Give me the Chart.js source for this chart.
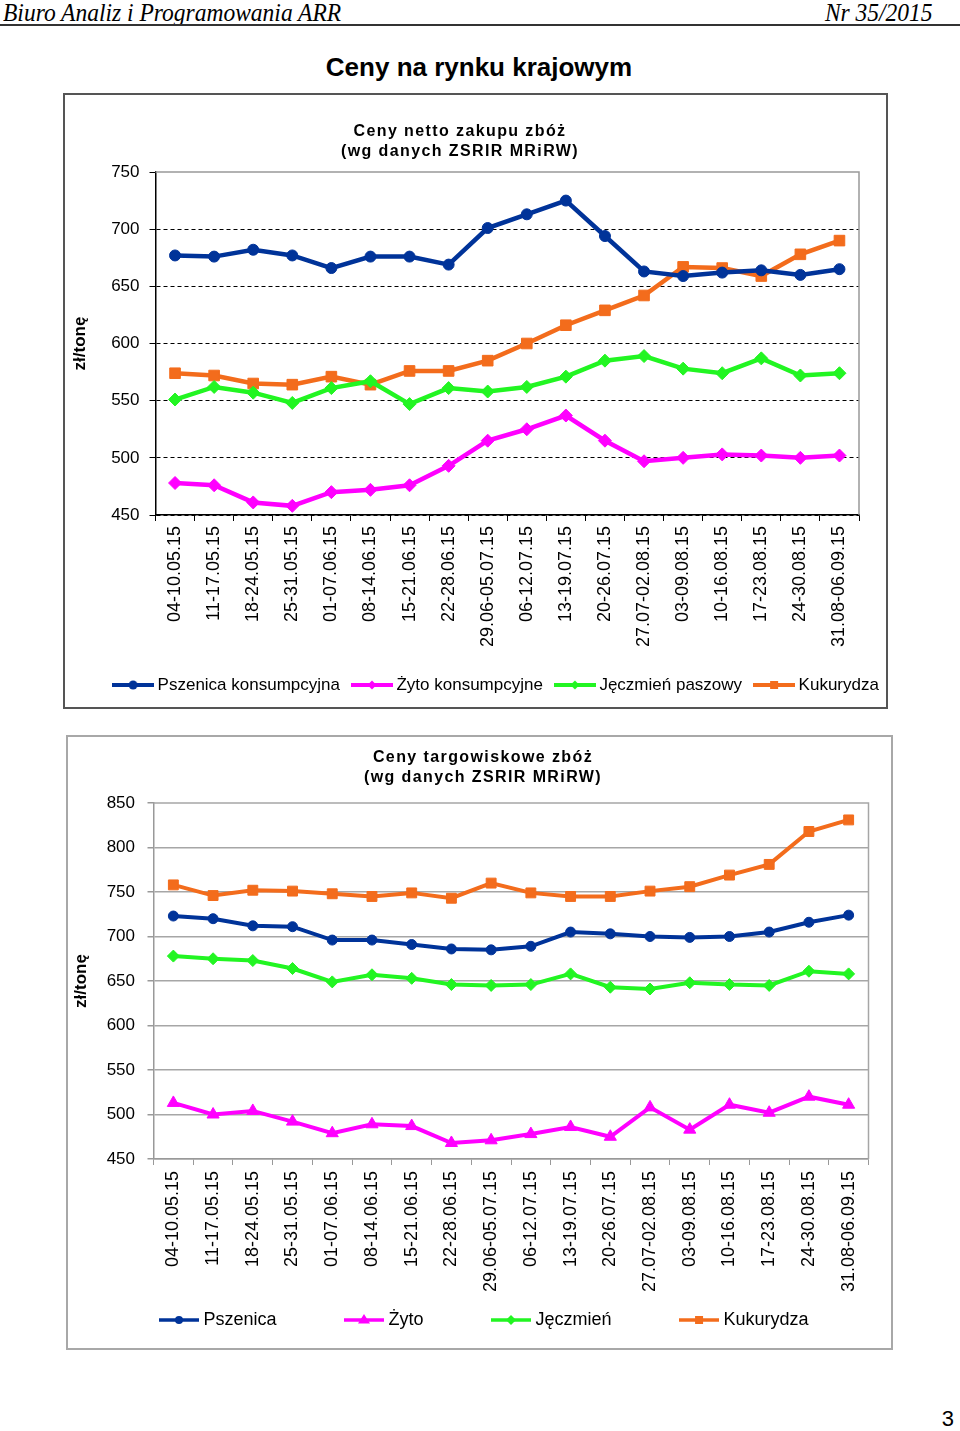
<!DOCTYPE html>
<html>
<head>
<meta charset="utf-8">
<script src="https://cdn.jsdelivr.net/npm/chart.js@4.4.1/dist/chart.umd.min.js"></script>
<style>
  body { margin: 0; width: 960px; height: 1431px; position: relative; background: #fff; overflow: hidden;
         font-family: "Liberation Sans", Arial, sans-serif; color: #000; }
  .hdr { position: absolute; top: 0px; font-family: "Liberation Serif", serif; font-style: italic; font-size: 25px; line-height: 25px; }
  .rule { position: absolute; left: 0; top: 24px; width: 960px; height: 2px; background: #333; }
  .title { position: absolute; left: 0; width: 958px; top: 52px; text-align: center; font-weight: bold; font-size: 26px; line-height: 30px; }
  .box { position: absolute; box-sizing: border-box; pointer-events: none; }
  .ctitle { position: absolute; width: 400px; text-align: center; font-weight: bold; font-size: 16px; line-height: 20px; letter-spacing: 1.4px; }
  canvas { position: absolute; }
  .pg { position: absolute; right: 6px; top: 1406px; font-size: 22px; }
</style>
</head>
<body>
<div class="hdr" style="left:3px;transform:scaleX(0.94);transform-origin:left top">Biuro Analiz i Programowania ARR</div>
<div class="hdr" style="right:27px;transform:scaleX(0.94);transform-origin:right top">Nr 35/2015</div>
<div class="rule"></div>
<div class="title">Ceny na rynku krajowym</div>

<canvas id="c1" width="870" height="616" style="left:63px;top:93px"></canvas>
<div class="box" style="left:63px;top:93px;width:825px;height:616px;border:2px solid #555"></div>
<div class="ctitle" style="left:260px;top:121px">Ceny netto zakupu zbóż<br>(wg danych ZSRIR MRiRW)</div>

<canvas id="c2" width="840" height="615" style="left:66px;top:735px"></canvas>
<div class="box" style="left:66px;top:735px;width:827px;height:615px;border:2px solid #a8a8a8"></div>
<div class="ctitle" style="left:283px;top:747px">Ceny targowiskowe zbóż<br>(wg danych ZSRIR MRiRW)</div>

<div class="pg">3</div>

<script>
// tygodnie notowań
const weeks = ['04-10.05.15', '11-17.05.15', '18-24.05.15', '25-31.05.15', '01-07.06.15', '08-14.06.15',
  '15-21.06.15', '22-28.06.15', '29.06-05.07.15', '06-12.07.15', '13-19.07.15', '20-26.07.15',
  '27.07-02.08.15', '03-09.08.15', '10-16.08.15', '17-23.08.15', '24-30.08.15', '31.08-06.09.15'];

// ceny netto zakupu (zł/t)
const pszenica1 = [677, 676, 682, 677, 666, 676, 676, 669, 701, 713, 725, 694, 663, 659, 662, 664, 660, 665];
const zyto1 = [478, 476, 461, 458, 470, 472, 476, 493, 515, 525, 537, 515, 497, 500, 503, 502, 500, 502];
const jeczmien1 = [551, 562, 557, 548, 561, 567, 547, 561, 558, 562, 571, 585, 589, 578, 574, 587, 572, 574];
const kukurydza1 = [574, 572, 565, 564, 571, 564, 576, 576, 585, 600, 616, 629, 642, 667, 666, 659, 678, 690];

// ceny targowiskowe (zł/t)
const pszenica2 = [723, 720, 712, 711, 696, 696, 691, 686, 685, 689, 705, 703, 700, 699, 700, 705, 716, 724];
const zyto2 = [513, 500, 504, 492, 479, 489, 487, 468, 471, 478, 486, 475, 508, 483, 511, 502, 520, 511];
const jeczmien2 = [678, 675, 673, 664, 649, 657, 653, 646, 645, 646, 658, 643, 641, 648, 646, 645, 661, 658];
const kukurydza2 = [758, 746, 752, 751, 748, 745, 749, 743, 760, 749, 745, 745, 751, 756, 769, 781, 818, 831];

const yTicks1 = [450, 750, 50];
const yTicks2 = [450, 850, 50];

const BLUE = '#003399', PINK = '#FF00FF', GREEN = '#22F522', ORANGE = '#F36C1C';

Chart.defaults.font.family = '"Liberation Sans", Arial, sans-serif';
Chart.defaults.color = '#000';

// small line+marker picture for the legend
function legendIcon(color, style, lw, r, w) {
  const c = document.createElement('canvas');
  c.width = w; c.height = 16;
  const g = c.getContext('2d');
  g.strokeStyle = color; g.fillStyle = color; g.lineWidth = lw;
  g.beginPath(); g.moveTo(0, 8); g.lineTo(w, 8); g.stroke();
  const x = w / 2, y = 8;
  g.beginPath();
  if (style == 'circle') g.arc(x, y, r, 0, Math.PI * 2);
  else if (style == 'rect') g.rect(x - r, y - r, 2 * r, 2 * r);
  else if (style == 'triangle') { g.moveTo(x, y - r * 1.2); g.lineTo(x + r * 1.2, y + r * 0.7); g.lineTo(x - r * 1.2, y + r * 0.7); g.closePath(); }
  else { g.moveTo(x, y - r); g.lineTo(x + r, y); g.lineTo(x, y + r); g.lineTo(x - r, y); g.closePath(); }
  g.fill();
  return c;
}

const plotFrame = {
  id: 'plotFrame',
  beforeDatasetsDraw(chart, args, opts) {
    const a = chart.chartArea, c = chart.ctx;
    c.save();
    c.strokeStyle = opts.color; c.lineWidth = opts.width;
    c.beginPath(); c.moveTo(a.left, a.top); c.lineTo(a.right, a.top); c.lineTo(a.right, a.bottom); c.stroke();
    c.restore();
  }
};

// long rotated labels run into the legend area, don't let the axis box clip them
const labelRoom = {
  id: 'labelRoom',
  afterLayout(chart) { chart.scales.x.bottom = chart.height; }
};

function series(label, data, color, style, radius, lw) {
  return { label: label, data: data, borderColor: color, backgroundColor: color, borderWidth: lw,
    pointStyle: style, pointRadius: radius, pointHoverRadius: radius, pointBorderWidth: 1, tension: 0 };
}

function makeChart(id, cfg) {
  return new Chart(document.getElementById(id), {
    type: 'line',
    data: { labels: weeks, datasets: cfg.datasets },
    plugins: [plotFrame, labelRoom],
    options: {
      responsive: false,
      animation: false,
      layout: { padding: { top: cfg.padTop, bottom: cfg.padBottom, left: 0, right: 0 } },
      plugins: {
        plotFrame: { color: cfg.frame, width: 1.5 },
        tooltip: { enabled: false },
        legend: {
          position: 'bottom',
          labels: {
            usePointStyle: true, pointStyleWidth: cfg.iconBox, padding: cfg.legendPad, color: '#000',
            font: { size: cfg.legendFont },
            generateLabels: function(chart) {
              return Chart.defaults.plugins.legend.labels.generateLabels(chart).map(function(l, i) {
                l.pointStyle = cfg.icons[i];
                return l;
              });
            }
          }
        }
      },
      scales: {
        x: {
          offset: true,
          grid: { offset: true, drawOnChartArea: false, tickLength: 6, color: cfg.axis },
          border: { color: cfg.axis, width: 1.5 },
          ticks: { minRotation: 90, maxRotation: 90, autoSkip: false, padding: cfg.xPad, font: { size: 18 } },
          afterFit: function(s) { s.height = cfg.xHeight; }
        },
        y: {
          min: cfg.yt[0], max: cfg.yt[1],
          ticks: { stepSize: cfg.yt[2], padding: cfg.yPad, font: { size: 17 } },
          grid: {
            color: function(c) { return c.tick && c.tick.value == cfg.yt[1] ? 'transparent' : cfg.grid; },
            lineWidth: cfg.gridWidth, tickLength: 6, tickColor: cfg.axis
          },
          border: { color: cfg.axis, width: 1.5, dash: cfg.dash },
          title: { display: true, text: 'zł/tonę', font: { size: 17, weight: 'bold' }, padding: { top: cfg.titlePad, bottom: 0 } },
          afterFit: function(s) { s.width = cfg.yWidth; }
        },
        y2: {
          position: 'right',
          grid: { display: false }, border: { display: false }, ticks: { display: false },
          afterFit: function(s) { s.width = cfg.rightWidth; }
        }
      }
    }
  });
}

makeChart('c1', {
  datasets: [
    series('Pszenica konsumpcyjna', pszenica1, BLUE, 'circle', 5.5, 4.5),
    series('Żyto konsumpcyjne', zyto1, PINK, 'rectRot', 6.5, 4.5),
    series('Jęczmień paszowy', jeczmien1, GREEN, 'rectRot', 6.5, 4.5),
    series('Kukurydza', kukurydza1, ORANGE, 'rect', 7.5, 4.5)
  ],
  icons: [legendIcon(BLUE, 'circle', 4, 4.5, 42), legendIcon(PINK, 'rectRot', 4, 4.5, 42),
          legendIcon(GREEN, 'rectRot', 4, 4.5, 42), legendIcon(ORANGE, 'rect', 4, 4, 42)],
  iconBox: 32, legendPad: 16, legendFont: 17,
  padTop: 79, padBottom: 5.5, xHeight: 145.5, xPad: 5,
  yt: yTicks1, yPad: 10, yWidth: 92.5, titlePad: 7, rightWidth: 74,
  axis: '#000', grid: '#000', gridWidth: 1, dash: [4, 3], frame: '#999'
});

makeChart('c2', {
  datasets: [
    series('Pszenica', pszenica2, BLUE, 'circle', 5, 4),
    series('Żyto', zyto2, PINK, 'triangle', 7, 4),
    series('Jęczmień', jeczmien2, GREEN, 'rectRot', 6, 4),
    series('Kukurydza', kukurydza2, ORANGE, 'rect', 7, 4)
  ],
  icons: [legendIcon(BLUE, 'circle', 3.5, 4, 40), legendIcon(PINK, 'triangle', 3.5, 5, 40),
          legendIcon(GREEN, 'rectRot', 3.5, 5, 40), legendIcon(ORANGE, 'rect', 3.5, 4, 40)],
  iconBox: 31, legendPad: 72, legendFont: 18,
  padTop: 68, padBottom: 11, xHeight: 80, xPad: 6,
  yt: yTicks2, yPad: 12.5, yWidth: 87.5, titlePad: 5, rightWidth: 37.5,
  axis: '#999', grid: '#a6a6a6', gridWidth: 1.5, dash: [], frame: '#a6a6a6'
});
</script>
</body>
</html>
